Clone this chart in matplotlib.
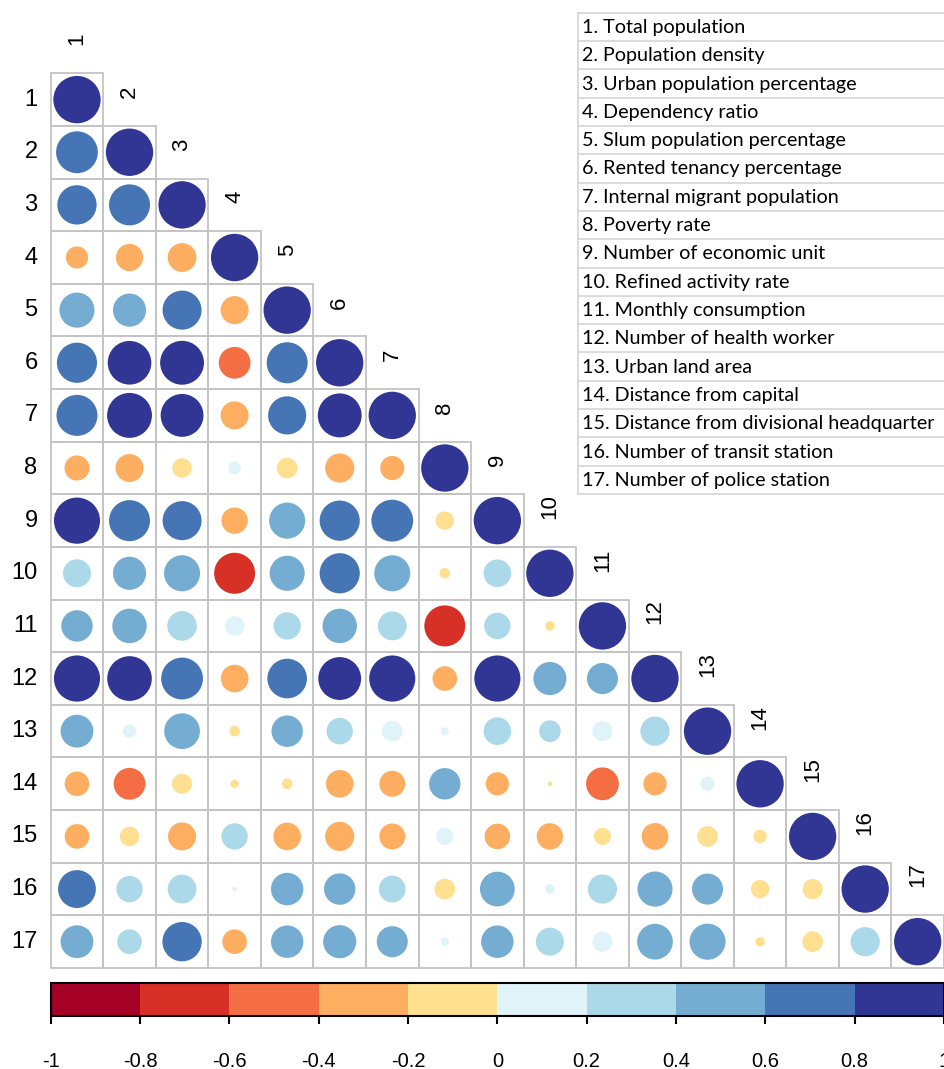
import matplotlib.pyplot as plt
import matplotlib as mpl
from matplotlib.patches import Circle, Rectangle
import numpy as np

# Variable names (legend table)
variables = ['Total population', 'Population density', 'Urban population percentage',
             'Dependency ratio', 'Slum population percentage', 'Rented tenancy percentage',
             'Internal migrant population', 'Poverty rate', 'Number of economic unit',
             'Refined activity rate', 'Monthly consumption', 'Number of health worker',
             'Urban land area', 'Distance from capital', 'Distance from divisional headquarter',
             'Number of transit station', 'Number of police station']

# Lower triangle correlations (row i, columns 1..i-1)
row2 = [0.78]
row3 = [0.69, 0.75]
row4 = [-0.22, -0.33, -0.37]
row5 = [0.55, 0.49, 0.68, -0.35]
row6 = [0.72, 0.85, 0.86, -0.45, 0.75]
row7 = [0.75, 0.90, 0.82, -0.35, 0.65, 0.86]
row8 = [-0.28, -0.35, -0.17, 0.07, -0.19, -0.38, -0.26]
row9 = [0.95, 0.75, 0.68, -0.31, 0.58, 0.72, 0.78, -0.15]
row10 = [0.35, 0.49, 0.58, -0.75, 0.55, 0.72, 0.58, -0.05, 0.34]
row11 = [0.44, 0.53, 0.39, 0.17, 0.33, 0.53, 0.37, -0.75, 0.31, -0.04]
row12 = [0.95, 0.89, 0.78, -0.34, 0.70, 0.82, 0.95, -0.27, 0.95, 0.49, 0.43]
row13 = [0.48, 0.08, 0.57, -0.05, 0.44, 0.31, 0.19, 0.03, 0.34, 0.21, 0.18, 0.38]
row14 = [-0.27, -0.45, -0.18, -0.03, -0.05, -0.34, -0.30, 0.44, -0.24, -0.01, -0.48, -0.24, 0.09]
row15 = [-0.27, -0.17, -0.35, 0.31, -0.34, -0.38, -0.30, 0.13, -0.29, -0.31, -0.13, -0.32, -0.19, -0.08]
row16 = [0.64, 0.31, 0.37, 0.01, 0.47, 0.44, 0.32, -0.19, 0.54, 0.04, 0.38, 0.55, 0.43, -0.15, -0.18]
row17 = [0.48, 0.27, 0.69, -0.27, 0.47, 0.49, 0.43, 0.03, 0.47, 0.35, 0.18, 0.57, 0.58, -0.04, -0.19, 0.38]

rows = [[], row2, row3, row4, row5, row6, row7, row8, row9, row10,
        row11, row12, row13, row14, row15, row16, row17]

n = len(variables)
corr = np.eye(n)
for i, r in enumerate(rows):
    for j, v in enumerate(r):
        corr[i, j] = v

# Colour scale
colors = ['#a50026', '#d73027', '#f46d43', '#fdae61', '#fee090',
          '#e0f3f8', '#abd9e9', '#74add1', '#4575b4', '#313695']
bounds = np.linspace(-1, 1, 11)
cmap = mpl.colors.ListedColormap(colors)
norm = mpl.colors.BoundaryNorm(bounds, cmap.N)

W, H = 945, 1069
fig = plt.figure(figsize=(W / 100, H / 100), dpi=100)
font = 'Liberation Sans'

# Main matrix
gx0, gx1, gy0, gy1 = 50.7, 944, 73.3, 968
ax = fig.add_axes([gx0 / W, 1 - gy1 / H, (gx1 - gx0) / W, (gy1 - gy0) / H])
ax.set_xlim(0.5, n + 0.5)
ax.set_ylim(n + 0.5, 0.5)
ax.axis('off')

for i in range(n):
    for j in range(i + 1):
        ax.add_patch(Rectangle((j + 0.5, i + 0.5), 1, 1, fill=False,
                               edgecolor='#c4c4c4', lw=1.3, clip_on=False))
        v = corr[i, j]
        ax.add_patch(Circle((j + 1, i + 1), 0.45 * np.sqrt(abs(v)),
                            facecolor=cmap(norm(min(v, 0.999))), edgecolor='none'))

for k in range(1, n + 1):
    ax.text(0.25, k, str(k), ha='right', va='center', fontsize=17,
            family=font, clip_on=False)
    ax.text(k, k - 1.03, str(k), rotation=90, ha='center', va='bottom',
            fontsize=16, family=font, clip_on=False)

# Colour bar
cax = fig.add_axes([gx0 / W, 1 - 1016 / H, (gx1 - gx0) / W, 33 / H])
cb = mpl.colorbar.ColorbarBase(cax, cmap=cmap, norm=norm, orientation='horizontal',
                               ticks=bounds)
cb.outline.set_linewidth(1.5)
cax.set_xticklabels(['-1', '-0.8', '-0.6', '-0.4', '-0.2', '0',
                     '0.2', '0.4', '0.6', '0.8', '1'], family=font, fontsize=14.5)
cax.tick_params(axis='x', length=6, width=1.5, pad=20)

# Legend table
tx0, tx1, ty0, ty1 = 578, 948, 12.7, 494
tax = fig.add_axes([tx0 / W, 1 - ty1 / H, (tx1 - tx0) / W, (ty1 - ty0) / H])
tax.set_xlim(0, 1)
tax.set_ylim(n, 0)
tax.axis('off')
for k in range(n + 1):
    tax.plot([0, 1], [k, k], color='#d4d4d4', lw=1.2, clip_on=False)
tax.plot([0, 0], [0, n], color='#d4d4d4', lw=1.2, clip_on=False)
tax.plot([1, 1], [0, n], color='#d4d4d4', lw=1.2, clip_on=False)
for k, name in enumerate(variables):
    tax.text(4 / (tx1 - tx0), k + 0.52, f'{k + 1}. {name}', ha='left', va='center',
             fontsize=14.2, family='Lato')

fig.savefig('out.png', dpi=100)
